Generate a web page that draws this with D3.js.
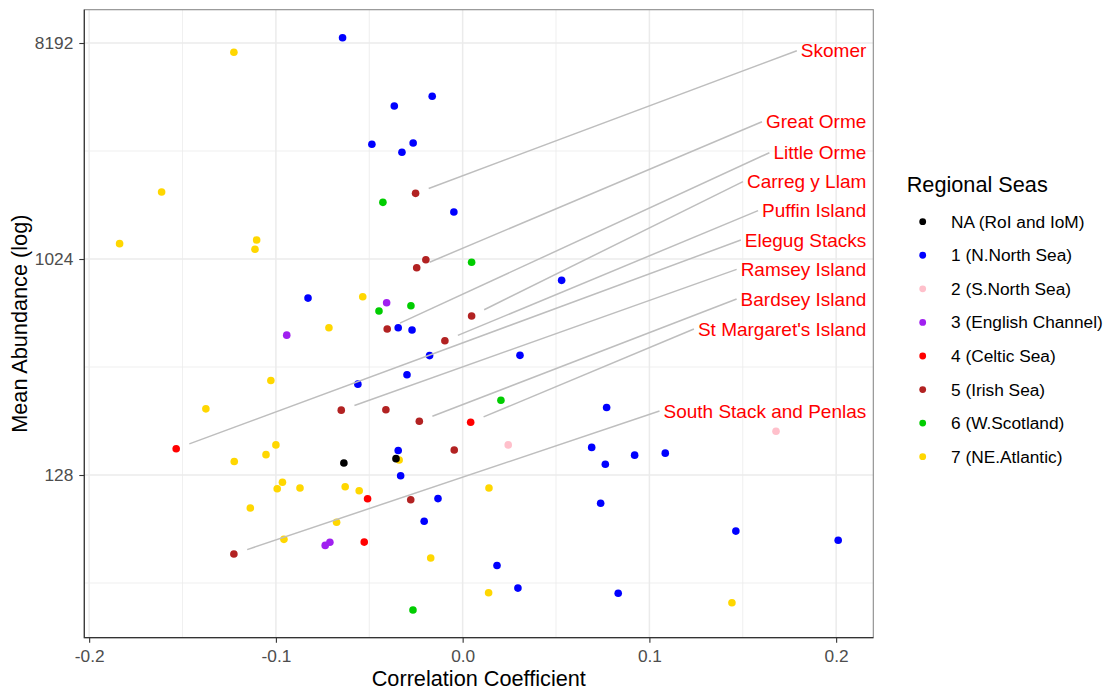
<!DOCTYPE html>
<html><head><meta charset="utf-8">
<script src="https://cdn.jsdelivr.net/npm/d3@7"></script>
<style>body{margin:0;background:#fff}svg{display:block}</style>
</head><body>
<svg id="chart" width="1104" height="691"></svg>
<script>
// ---------- DATA ----------
const seaNames = ["NA (RoI and IoM)", "1 (N.North Sea)", "2 (S.North Sea)", "3 (English Channel)",
  "4 (Celtic Sea)", "5 (Irish Sea)", "6 (W.Scotland)", "7 (NE.Atlantic)"];

// [correlation coefficient, mean abundance]
const seaNA = [[-0.0636, 143.6], [-0.0357, 149.8]];
const sea1 = [[-0.0643, 8623], [-0.0163, 4905], [-0.0366, 4467], [-0.0486, 3089], [-0.0265, 3128],
  [-0.0325, 2861], [-0.0047, 1610], [0.0530, 834], [-0.0828, 703], [-0.0345, 528], [-0.0271, 517],
  [-0.0177, 404], [0.0307, 405], [-0.0298, 336], [-0.0561, 307], [0.0771, 245], [-0.0345, 162],
  [0.0691, 167], [0.0764, 142], [0.0921, 155], [0.1085, 158], [-0.0332, 127], [-0.0132, 102],
  [-0.0206, 82], [0.0739, 97.5], [0.1463, 74.6], [0.2011, 68.3], [0.0184, 53.6], [0.0296, 43.1],
  [0.0833, 41]];
const sea2 = [[0.0244, 171], [0.1678, 195]];
const sea3 = [[-0.0407, 672], [-0.0942, 492], [-0.0736, 65], [-0.0711, 67]];
const sea4 = [[-0.1534, 164.9], [0.0043, 212.6], [-0.0509, 101.9], [-0.0527, 67.1]];
const sea5 = [[-0.0252, 1927], [-0.0197, 1017], [-0.0246, 942], [0.0048, 592], [-0.0404, 522],
  [-0.0095, 466], [-0.0650, 239], [-0.0411, 240], [-0.0232, 214.7], [-0.0045, 162.8],
  [-0.0278, 100.9], [-0.1225, 59.8]];
const sea6 = [[-0.0427, 1767], [0.0048, 992], [-0.0277, 653], [-0.0448, 621], [0.0205, 263],
  [-0.0266, 34.9]];
const sea7 = [[-0.1225, 7491], [-0.1612, 1952], [-0.1103, 1229], [-0.1112, 1125], [-0.1837, 1187],
  [-0.0535, 712], [-0.0716, 528], [-0.1027, 318], [-0.1375, 242], [-0.1000, 171], [-0.1053, 155.7],
  [-0.1223, 145.8], [-0.0340, 148], [-0.0993, 112.2], [-0.0965, 119.4], [-0.0871, 112.9],
  [-0.0629, 114.4], [-0.0554, 110], [0.0141, 112.9], [-0.1137, 93.2], [-0.0675, 81.2],
  [-0.0957, 68.9], [-0.0171, 57.6], [0.0139, 41.2], [0.1442, 37.4]];

const siteNames = ["Skomer", "Great Orme", "Little Orme", "Carreg y Llam", "Puffin Island",
  "Elegug Stacks", "Ramsey Island", "Bardsey Island", "St Margaret's Island", "South Stack and Penlas"];
const siteCorr = [-0.0252, -0.0246, -0.0404, 0.0048, -0.0095, -0.1534, -0.0650, -0.0232, 0.0043, -0.1225];
const siteAbund = [1927, 942, 522, 592, 466, 164.9, 239, 214.7, 212.6, 59.8];
// repelled label placement, in abundance units
const siteLabelAbund = [7607, 3840, 2849, 2157, 1631, 1229, 927, 697, 522, 237];

const xTicks = [-0.2, -0.1, 0.0, 0.1, 0.2];
const xMinor = [-0.15, -0.05, 0.05, 0.15];
const yTicks = [128, 1024, 8192];
const yMinor = [Math.pow(2, 5.5), Math.pow(2, 8.5), Math.pow(2, 11.5)];

// ---------- DRAW ----------
const seaColors = ["#000000", "#0000FF", "#FFC0CB", "#A020F0", "#FF0000", "#B22222", "#00CD00", "#FFD700"];
const seaPoints = [seaNA, sea1, sea2, sea3, sea4, sea5, sea6, sea7];
const font = "'Liberation Sans', Arial, Helvetica, sans-serif";

const L = 84.3, R = 873.3, T = 9.7, B = 637.7;
const x = d3.scaleLinear().domain([-0.2026, 0.2199]).range([L, R]);
const y = d3.scaleLog().base(2).domain([26.73, 11289]).range([B, T]);

const svg = d3.select("#chart").style("font-family", font);
svg.append("rect").attr("width", 1104).attr("height", 691).attr("fill", "#fff");

// grid
const grid = svg.append("g");
grid.selectAll(".xmin").data(xMinor).join("line")
  .attr("x1", d => x(d)).attr("x2", d => x(d)).attr("y1", T).attr("y2", B)
  .attr("stroke", "#EBEBEB").attr("stroke-width", 0.8);
grid.selectAll(".ymin").data(yMinor).join("line")
  .attr("y1", d => y(d)).attr("y2", d => y(d)).attr("x1", L).attr("x2", R)
  .attr("stroke", "#EBEBEB").attr("stroke-width", 0.8);
grid.selectAll(".xmaj").data(xTicks).join("line")
  .attr("x1", d => x(d)).attr("x2", d => x(d)).attr("y1", T).attr("y2", B)
  .attr("stroke", "#EBEBEB").attr("stroke-width", 1.5);
grid.selectAll(".ymaj").data(yTicks).join("line")
  .attr("y1", d => y(d)).attr("y2", d => y(d)).attr("x1", L).attr("x2", R)
  .attr("stroke", "#EBEBEB").attr("stroke-width", 1.5);

// border
svg.append("rect").attr("x", L).attr("y", T).attr("width", R - L).attr("height", B - T)
  .attr("fill", "none").attr("stroke", "#8a8a8a").attr("stroke-width", 1.1);
svg.append("path").attr("d", `M${L},${T}V${B}H${R}`).attr("fill", "none")
  .attr("stroke", "#333").attr("stroke-width", 1.2);

// axes
const xAxis = svg.append("g").attr("transform", `translate(0,${B})`)
  .call(d3.axisBottom(x).tickValues(xTicks).tickFormat(d3.format(".1f")).tickSize(5).tickPadding(7));
const yAxis = svg.append("g").attr("transform", `translate(${L},0)`)
  .call(d3.axisLeft(y).tickValues(yTicks).tickFormat(d3.format("d")).tickSize(5).tickPadding(6));
[xAxis, yAxis].forEach(a => {
  a.select(".domain").remove();
  a.selectAll(".tick line").attr("stroke", "#333").attr("stroke-width", 1.1);
  a.selectAll(".tick text").attr("fill", "#4D4D4D").style("font-size", "17.3px").style("font-family", font);
});
xAxis.selectAll(".tick text").text(d => d === 0 ? "0.0" : d3.format(".1f")(d).replace("−", "-"));

// axis titles
svg.append("text").attr("x", (L + R) / 2).attr("y", 686).attr("text-anchor", "middle")
  .style("font-size", "21.7px").attr("fill", "#000").text("Correlation Coefficient");
svg.append("text").attr("transform", `translate(26.7,${(T + B) / 2}) rotate(-90)`)
  .attr("text-anchor", "middle").style("font-size", "21.7px").attr("fill", "#000")
  .text("Mean Abundance (log)");

// points
const order = [1, 2, 3, 4, 5, 6, 7, 0];
order.forEach(i => {
  svg.append("g").selectAll("circle").data(seaPoints[i]).join("circle")
    .attr("cx", d => x(d[0])).attr("cy", d => y(d[1])).attr("r", 3.8)
    .attr("fill", seaColors[i]);
});

// labels with segments
const labG = svg.append("g");
const segG = labG.append("g");
const textG = labG.append("g");
siteNames.forEach((name, i) => {
  const t = textG.append("text").attr("x", R - 7).attr("y", y(siteLabelAbund[i]))
    .attr("dy", "0.35em").attr("text-anchor", "end").attr("fill", "#FF0000")
    .style("font-size", "19px").text(name);
  const w = t.node().getComputedTextLength();
  const ex = R - 7 - w - 4, ey = y(siteLabelAbund[i]);
  const px = x(siteCorr[i]), py = y(siteAbund[i]);
  const dx = ex - px, dy = ey - py, len = Math.hypot(dx, dy);
  const sx = px + dx / len * 14, sy = py + dy / len * 14;
  segG.append("line").attr("x1", sx).attr("y1", sy).attr("x2", ex).attr("y2", ey)
    .attr("stroke", "#BEBEBE").attr("stroke-width", 1.5);
});

// legend
const lg = svg.append("g");
lg.append("text").attr("x", 906.7).attr("y", 191.7).style("font-size", "21.7px")
  .attr("fill", "#000").text("Regional Seas");
const items = lg.selectAll(".item").data(seaNames).join("g")
  .attr("transform", (d, i) => `translate(0,${221.7 + i * 33.57})`);
items.append("circle").attr("cx", 922.7).attr("cy", 0).attr("r", 3.4)
  .attr("fill", (d, i) => seaColors[i]);
items.append("text").attr("x", 951).attr("y", 0).attr("dy", "0.35em")
  .style("font-size", "17.3px").attr("fill", "#000").text(d => d);
</script>
</body></html>
